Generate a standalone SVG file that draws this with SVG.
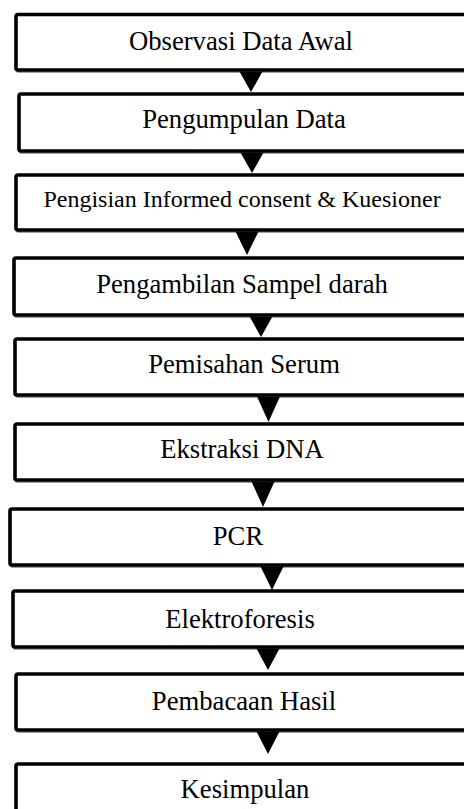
<svg xmlns="http://www.w3.org/2000/svg" width="464" height="809" viewBox="0 0 464 809">
  <defs>
    <style>
      .box { fill: #ffffff; stroke: #000000; stroke-width: 3.6; }
      .shadow { fill: none; stroke: #a0a0a0; stroke-width: 3; }
      .lbl { font-family: "Liberation Serif", "Times New Roman", serif; font-size: 26.67px; fill: #000000; text-anchor: middle; }
      .small { font-size: 24px; }
      .arrow { fill: #000000; }
      .arrowsh { fill: #b0b0b0; }
    </style>
  </defs>
  <rect width="464" height="809" fill="#ffffff"/>

  <g id="n1">
    <rect class="shadow" x="17" y="16" width="456" height="55.5" rx="2"/>
    <rect class="box" x="16" y="14.5" width="456" height="55.5" rx="2"/>
    <text class="lbl" x="241" y="50">Observasi Data Awal</text>
  </g>
  <g id="n2">
    <rect class="shadow" x="20" y="95.5" width="456" height="57" rx="2"/>
    <rect class="box" x="19" y="94" width="456" height="57" rx="2"/>
    <text class="lbl" x="244" y="128">Pengumpulan Data</text>
  </g>
  <g id="n3">
    <rect class="shadow" x="17" y="176.5" width="456" height="55" rx="2"/>
    <rect class="box" x="16" y="175" width="456" height="55" rx="2"/>
    <text class="lbl small" x="242" y="207">Pengisian Informed consent &amp; Kuesioner</text>
  </g>
  <g id="n4">
    <rect class="shadow" x="15" y="259.5" width="456" height="57" rx="2"/>
    <rect class="box" x="14" y="258" width="456" height="57" rx="2"/>
    <text class="lbl" x="242" y="293">Pengambilan Sampel darah</text>
  </g>
  <g id="n5">
    <rect class="shadow" x="16" y="340.5" width="456" height="56" rx="2"/>
    <rect class="box" x="15" y="339" width="456" height="56" rx="2"/>
    <text class="lbl" x="244" y="373">Pemisahan Serum</text>
  </g>
  <g id="n6">
    <rect class="shadow" x="16" y="425.5" width="456" height="56" rx="2"/>
    <rect class="box" x="15" y="424" width="456" height="56" rx="2"/>
    <text class="lbl" x="242" y="458">Ekstraksi DNA</text>
  </g>
  <g id="n7">
    <rect class="shadow" x="11" y="510.5" width="456" height="56" rx="2"/>
    <rect class="box" x="10" y="509" width="456" height="56" rx="2"/>
    <text class="lbl" x="238" y="545">PCR</text>
  </g>
  <g id="n8">
    <rect class="shadow" x="14" y="592.5" width="456" height="56" rx="2"/>
    <rect class="box" x="13" y="591" width="456" height="56" rx="2"/>
    <text class="lbl" x="240" y="628">Elektroforesis</text>
  </g>
  <g id="n9">
    <rect class="shadow" x="17" y="675.5" width="456" height="56" rx="2"/>
    <rect class="box" x="16" y="674" width="456" height="56" rx="2"/>
    <text class="lbl" x="244" y="710">Pembacaan Hasil</text>
  </g>
  <g id="n10">
    <rect class="shadow" x="17" y="765.5" width="456" height="60" rx="2"/>
    <rect class="box" x="16" y="764" width="456" height="60" rx="2"/>
    <text class="lbl" x="245" y="798">Kesimpulan</text>
  </g>

  <g id="connectors">
    <polygon class="arrow" points="239.5,71.5 262.5,71.5 251,92"/>
    <polygon class="arrow" points="240.5,152.5 263.5,152.5 252,173"/>
    <polygon class="arrow" points="235.5,231.5 258.5,231.5 247,255"/>
    <polygon class="arrow" points="249.5,316.5 272.5,316.5 261,337"/>
    <polygon class="arrow" points="257,396.5 280,396.5 268.5,422"/>
    <polygon class="arrow" points="251.5,481.5 274.5,481.5 263,507"/>
    <polygon class="arrow" points="260.5,566.5 283.5,566.5 272,590"/>
    <polygon class="arrow" points="256.5,648.5 279.5,648.5 268,670"/>
    <polygon class="arrow" points="256.5,731.5 279.5,731.5 268,754"/>
  </g>
</svg>
